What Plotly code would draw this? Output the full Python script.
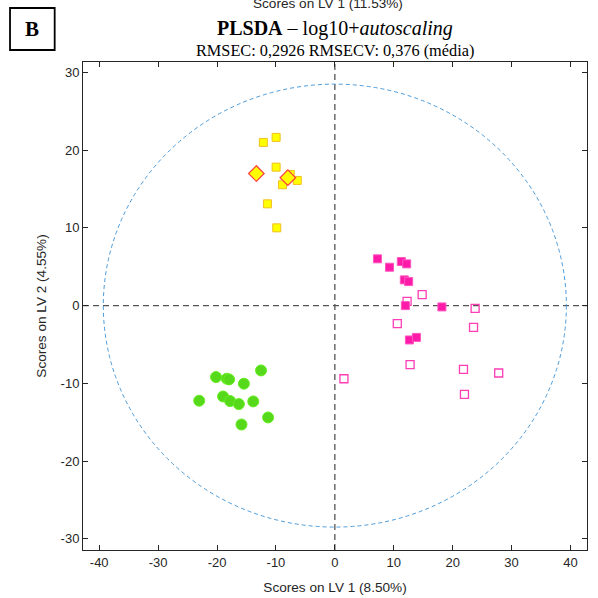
import plotly.graph_objects as go

# ---- data ----
yellow_sq_x = [-12.14, -9.97, -9.97, -7.57, -8.89, -6.38, -11.45, -9.86]
yellow_sq_y = [21.0, 21.65, 17.82, 16.88, 15.55, 16.11, 13.1, 10.01]
yellow_dia_x = [-13.33, -7.98]
yellow_dia_y = [17.0, 16.46]

pink_fill_x = [7.23, 9.28, 11.28, 12.19, 11.79, 12.53, 11.97, 18.17, 12.65, 13.85]
pink_fill_y = [6.02, 4.94, 5.67, 5.37, 3.31, 3.09, 0.0, -0.17, -4.42, -4.09]
pink_open_x = [14.82, 12.26, 23.81, 10.6, 23.54, 12.77, 21.83, 27.81, 22.0, 1.54]
pink_open_y = [1.42, 0.55, -0.35, -2.32, -2.8, -7.6, -8.2, -8.67, -11.43, -9.41]

green_x = [-12.53, -20.17, -18.34, -17.95, -15.44, -23.03, -18.97, -17.78, -16.29, -13.85, -11.33, -15.85]
green_y = [-8.34, -9.19, -9.41, -9.5, -10.05, -12.24, -11.69, -12.28, -12.67, -12.33, -14.39, -15.3]

ellipse_rx = 39.3
ellipse_ry = 28.5

x_ticks = [-40, -30, -20, -10, 0, 10, 20, 30, 40]
x_ticktext = ["-40", "-30", "-20", "-10", "0", "10", "20", "30", "40"]
y_ticks = [-30, -20, -10, 0, 10, 20, 30]
y_ticktext = ["-30", "-20", "-10", "0", "10", "20", "30"]

fig = go.Figure()

fig.add_trace(go.Scatter(x=green_x, y=green_y, mode="markers",
                         marker=dict(symbol="circle", size=11, color="#56d91a",
                                     line=dict(color="#66ee22", width=1))))
fig.add_trace(go.Scatter(x=pink_open_x, y=pink_open_y, mode="markers",
                         marker=dict(symbol="square-open", size=8, color="#ff3db5",
                                     line=dict(color="#ff3db5", width=1.3))))
fig.add_trace(go.Scatter(x=pink_fill_x, y=pink_fill_y, mode="markers",
                         marker=dict(symbol="square", size=8, color="#ff1aa8",
                                     line=dict(color="#ff55c0", width=1))))
fig.add_trace(go.Scatter(x=yellow_sq_x, y=yellow_sq_y, mode="markers",
                         marker=dict(symbol="square", size=8, color="#ffff00",
                                     line=dict(color="#f0c020", width=1))))
fig.add_trace(go.Scatter(x=yellow_dia_x, y=yellow_dia_y, mode="markers",
                         marker=dict(symbol="diamond", size=12, color="#ffff00",
                                     line=dict(color="#ff4040", width=1.2))))

fig.add_shape(type="circle", xref="x", yref="y",
              x0=-ellipse_rx, x1=ellipse_rx, y0=-ellipse_ry, y1=ellipse_ry,
              line=dict(color="#4d9bd9", width=1, dash="4px,3px"), layer="below")
fig.add_shape(type="line", xref="x", yref="paper", x0=0, x1=0, y0=0, y1=1,
              line=dict(color="#555555", width=1.3, dash="6px,4px"), layer="below")
fig.add_shape(type="line", xref="paper", yref="y", x0=0, x1=1, y0=0, y1=0,
              line=dict(color="#555555", width=1.3, dash="6px,4px"), layer="below")

# Panel label box "B"
fig.add_shape(type="rect", xref="paper", yref="paper",
              x0=-0.1448, x1=-0.0562, y0=1.0246, y1=1.1107,
              line=dict(color="black", width=1.8), fillcolor="white")

axis_common = dict(showgrid=False, zeroline=False, showline=True, mirror="ticks",
                   linecolor="#262626", linewidth=1, ticks="inside", ticklen=5,
                   tickcolor="#262626", automargin=False,
                   tickfont=dict(family="Liberation Sans, Arial", size=13, color="#262626"))

fig.update_layout(
    width=598, height=598,
    margin=dict(l=83, r=11, t=62, b=48),
    paper_bgcolor="white", plot_bgcolor="white",
    showlegend=False,
    xaxis=dict(range=[-42.75, 42.8], tickvals=x_ticks, ticktext=x_ticktext,
               title=dict(text="Scores on LV 1 (8.50%)", standoff=13,
                          font=dict(family="Liberation Sans, Arial", size=13.6, color="#262626")),
               **axis_common),
    yaxis=dict(range=[-31.45, 31.35], tickvals=y_ticks, ticktext=y_ticktext,
               title=dict(text="Scores on LV 2 (4.55%)", standoff=10,
                          font=dict(family="Liberation Sans, Arial", size=13.6, color="#262626")),
               **axis_common),
    annotations=[
        dict(text="<b>B</b>", xref="paper", yref="paper", x=-0.1005, y=1.0677,
             showarrow=False, xanchor="center", yanchor="middle",
             font=dict(family="Liberation Serif, Times New Roman", size=21, color="black"),
             ),
        dict(text="<b>PLSDA</b> – log10+<i>autoscaling</i>", xref="paper", yref="paper",
             x=0.5, y=1.0, yshift=34, showarrow=False, xanchor="center", yanchor="middle",
             font=dict(family="Liberation Serif, Times New Roman", size=20, color="black")),
        dict(text="RMSEC: 0,2926 RMSECV: 0,376 (média)", xref="paper", yref="paper",
             x=0.5, y=1.0, yshift=12, showarrow=False, xanchor="center", yanchor="middle",
             font=dict(family="Liberation Serif, Times New Roman", size=16.3, color="black")),
        dict(text="Scores on LV 1 (11.53%)", xref="paper", yref="paper",
             x=0.5, y=1.0, xshift=-7, yshift=59, showarrow=False, xanchor="center", yanchor="middle",
             font=dict(family="Liberation Sans, Arial", size=13.6, color="#262626")),
    ],
)

fig.write_html("out.html")
